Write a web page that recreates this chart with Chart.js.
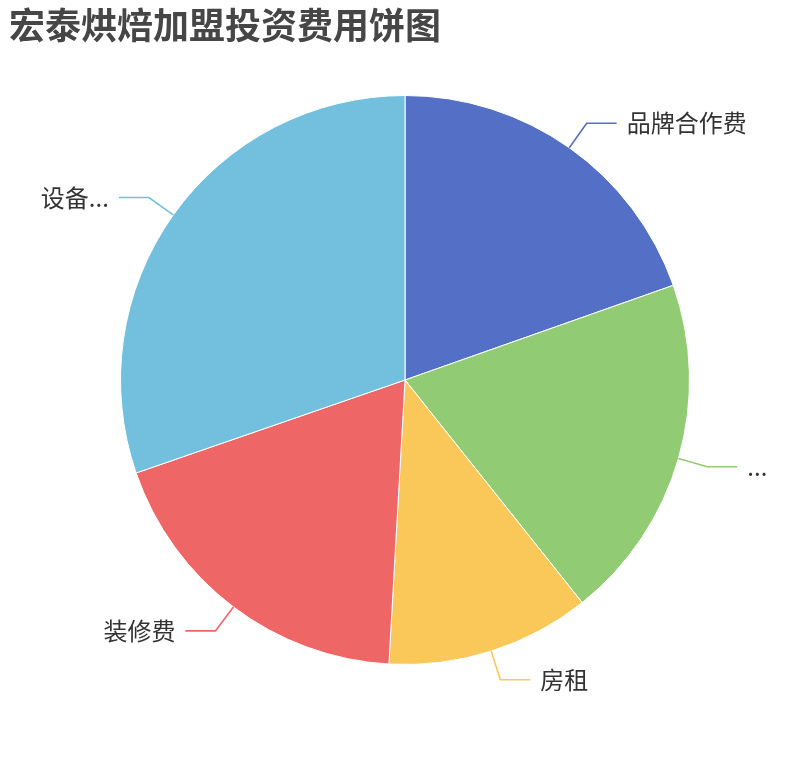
<!DOCTYPE html>
<html>
<head>
<meta charset="utf-8">
<script src="https://cdn.jsdelivr.net/npm/chart.js@4"></script>
<style>
    html, body { margin: 0; padding: 0; background: #fff; }
    #wrap { width: 810px; height: 760px; }
</style>
</head>
<body>
<div id="wrap"><canvas id="chartPie" width="810" height="760"></canvas></div>
<script>
const titulo = '宏泰烘焙加盟投资费用饼图';
const categorias = ['品牌合作费', '...', '房租', '装修费', '设备...'];
const valores = [19.6, 19.7, 11.6, 18.8, 30.3];
const colores = ['#5470c6', '#91cc75', '#fac858', '#ee6666', '#73c0de'];

const fuente = '"Noto Sans CJK SC", "Noto Sans", sans-serif';

// etiquetas externas con linea guia, estilo echarts
const etiquetas = {
    id: 'etiquetas',
    afterDraw(chart) {
        const ctx = chart.ctx;
        ctx.save();
        ctx.fillStyle = '#464646';
        ctx.font = 'bold 36px ' + fuente;
        ctx.textBaseline = 'middle';
        ctx.textAlign = 'left';
        ctx.fillText(titulo, 9, 25);

        chart.getDatasetMeta(0).data.forEach((arc, i) => {
            const { x, y, startAngle, endAngle, outerRadius } = arc.getProps(['x', 'y', 'startAngle', 'endAngle', 'outerRadius'], true);
            const a = (startAngle + endAngle) / 2;
            const cos = Math.cos(a), sin = Math.sin(a);
            const p1 = [x + outerRadius * cos, y + outerRadius * sin];
            const p2 = [x + (outerRadius + 30) * cos, y + (outerRadius + 30) * sin];
            const dir = cos >= 0 ? 1 : -1;
            const p3 = [p2[0] + dir * 30, p2[1]];
            ctx.strokeStyle = colores[i];
            ctx.lineWidth = 1.6;
            ctx.beginPath();
            ctx.moveTo(p1[0], p1[1]);
            ctx.lineTo(p2[0], p2[1]);
            ctx.lineTo(p3[0], p3[1]);
            ctx.stroke();
            ctx.fillStyle = '#333';
            ctx.font = '24px ' + fuente;
            ctx.textAlign = dir > 0 ? 'left' : 'right';
            ctx.fillText(categorias[i], p3[0] + dir * 10, p3[1]);
        });
        ctx.restore();
    }
};

new Chart(document.getElementById('chartPie').getContext('2d'), {
    type: 'pie',
    data: { labels: categorias, datasets: [{ data: valores, backgroundColor: colores, borderColor: '#fff', borderWidth: 1 }] },
    options: {
        responsive: false,
        devicePixelRatio: 1,
        animation: false,
        layout: { padding: { top: 95, bottom: 95, left: 0, right: 0 } },
        plugins: { legend: { display: false }, tooltip: { enabled: false } }
    },
    plugins: [etiquetas]
});
</script>
</body>
</html>
